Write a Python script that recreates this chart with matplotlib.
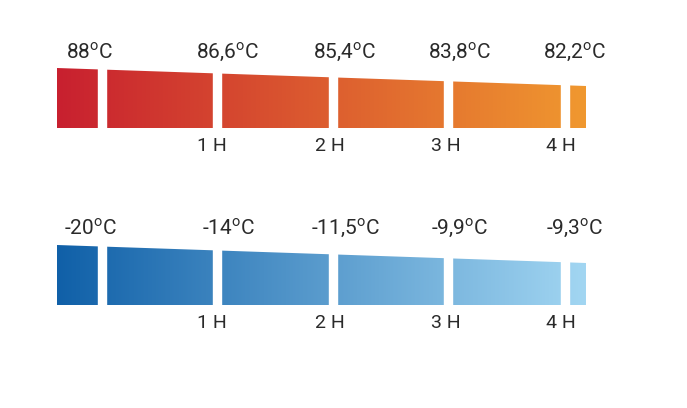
import numpy as np
import matplotlib.pyplot as plt
from matplotlib.patches import Polygon
from matplotlib.colors import LinearSegmentedColormap

hot_labels = ['88$^\\mathregular{o}$C', '86,6$^\\mathregular{o}$C', '85,4$^\\mathregular{o}$C',
              '83,8$^\\mathregular{o}$C', '82,2$^\\mathregular{o}$C']
cold_labels = ['-20$^\\mathregular{o}$C', '-14$^\\mathregular{o}$C', '-11,5$^\\mathregular{o}$C',
               '-9,9$^\\mathregular{o}$C', '-9,3$^\\mathregular{o}$C']
hours = ['1 H', '2 H', '3 H', '4 H']

W, H = 687, 408
fig = plt.figure(figsize=(W / 100, H / 100), dpi=100)
ax = fig.add_axes([0, 0, 1, 1])
ax.set_xlim(0, W)
ax.set_ylim(H, 0)
ax.axis('off')

x0, x1 = 57, 586
gaps = [98, 213, 329, 444, 561]
gapw = 8
label_x = [90, 228, 345, 460, 575]
hour_x = [212, 330, 446, 561]


def band(ytop_l, ytop_r, ybot, c0, c1, labels, ylab, yhour):
    cmap = LinearSegmentedColormap.from_list('g', [c0, c1])
    grad = np.linspace(0, 1, 256).reshape(1, -1)
    im = ax.imshow(grad, cmap=cmap, extent=[x0, x1, ybot, ytop_l - 2],
                   aspect='auto', zorder=1)
    poly = Polygon([(x0, ytop_l), (x1, ytop_r), (x1, ybot), (x0, ybot)],
                   closed=True, transform=ax.transData, facecolor='none',
                   edgecolor='none')
    ax.add_patch(poly)
    im.set_clip_path(poly)
    for g in gaps:
        ax.fill_between([g, g + gapw], ytop_l - 5, ybot + 1, color='white', zorder=2)
    for x, t in zip(label_x, labels):
        ax.text(x, ylab, t, ha='center', va='center', fontsize=15,
                color='#2a2a2a', family='Roboto')
    for x, t in zip(hour_x, hours):
        ax.text(x, yhour, t, ha='center', va='center', fontsize=14,
                color='#2a2a2a', family='Roboto')


band(68, 86, 128, '#c8202f', '#f0982f', hot_labels, 52, 146)
band(245, 263, 305, '#1060a8', '#a2d6f2', cold_labels, 228, 323)

fig.savefig('out.png', dpi=100)
